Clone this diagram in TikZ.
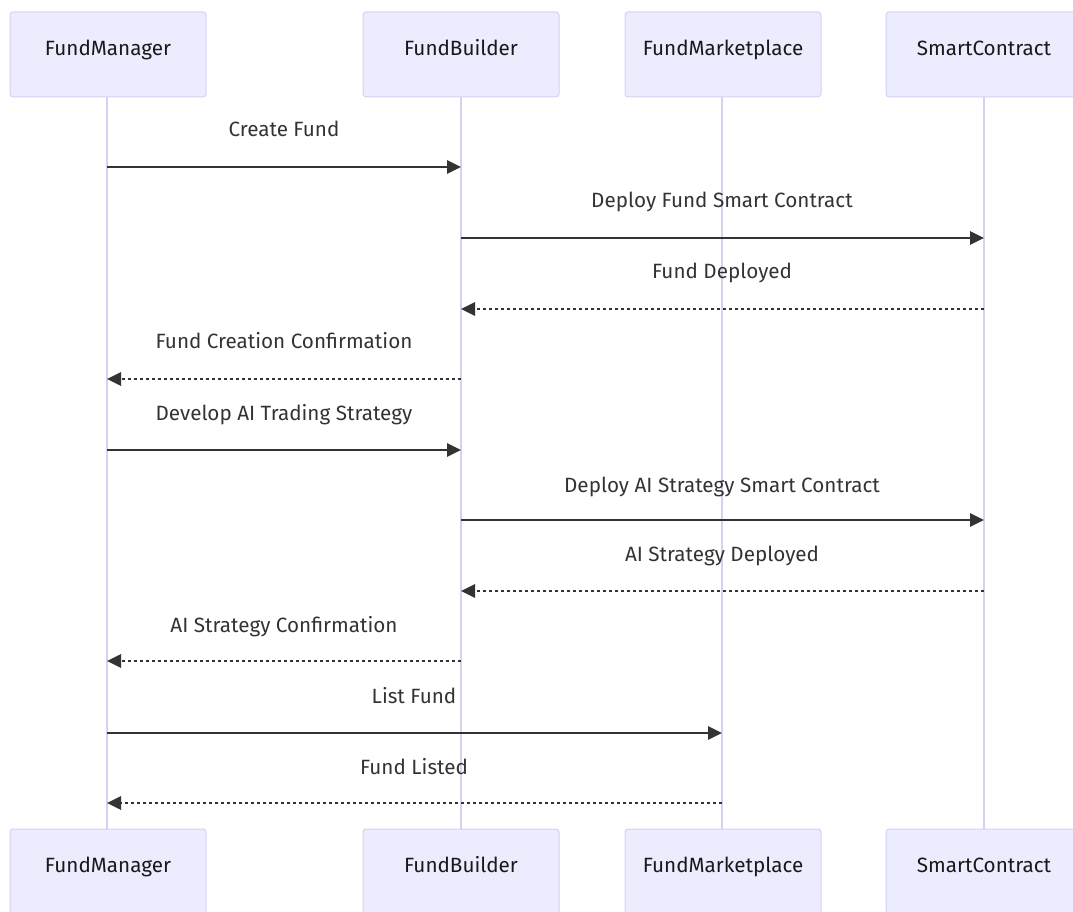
\documentclass[tikz,border=0pt]{standalone}
\usepackage{fontspec}
\setmainfont{Fira Sans}
\usetikzlibrary{arrows.meta}
\definecolor{actfill}{HTML}{ECECFF}
\definecolor{actline}{HTML}{DACEF3}
\definecolor{msgcol}{HTML}{333333}
\tikzset{
  actor/.style={draw=actline, fill=actfill, line width=0.75pt, rounded corners=2.25pt,
    minimum width=147pt, minimum height=63.75pt, inner sep=0pt,
    font=\fontsize{15.5}{18}\selectfont, text=black!90, text height=8pt, text depth=6.5pt},
  lifeline/.style={draw=actline, line width=1.5pt},
  msg/.style={draw=msgcol, line width=1.4pt, -{Triangle[length=10.5pt,width=10pt]}},
  reply/.style={msg, dash pattern=on 2.25pt off 2.25pt},
  lbl/.style={font=\fontsize{15.5}{18}\selectfont, text=msgcol, inner sep=0pt, anchor=base}
}
\begin{document}
\begin{tikzpicture}[x=0.75pt,y=-0.75pt]
\useasboundingbox (0,0) rectangle (1073,912);
% lifelines first (behind boxes)
\coordinate (lFM) at (107,96);
\coordinate (lFB) at (461,96);
\coordinate (lMP) at (722,96);
\coordinate (lSC) at (984,96);
\coordinate (eFM) at (107,829);
\coordinate (eFB) at (461,829);
\coordinate (eMP) at (722,829);
\coordinate (eSC) at (984,829);
\draw[lifeline] (lFM) -- (eFM);
\draw[lifeline] (lFB) -- (eFB);
\draw[lifeline] (lMP) -- (eMP);
\draw[lifeline] (lSC) -- (eSC);
% actors
\node[actor] (tFM) at (108,54.5) {FundManager};
\node[actor] (tFB) at (461,54.5) {FundBuilder};
\node[actor] (tMP) at (723,54.5) {FundMarketplace};
\node[actor] (tSC) at (984,54.5) {SmartContract};
\node[actor] (bFM) at (108,871.5) {FundManager};
\node[actor] (bFB) at (461,871.5) {FundBuilder};
\node[actor] (bMP) at (723,871.5) {FundMarketplace};
\node[actor] (bSC) at (984,871.5) {SmartContract};
% message rows
\coordinate (m1) at (0,167);
\coordinate (m2) at (0,238);
\coordinate (m3) at (0,309);
\coordinate (m4) at (0,379);
\coordinate (m5) at (0,450);
\coordinate (m6) at (0,520);
\coordinate (m7) at (0,591);
\coordinate (m8) at (0,661);
\coordinate (m9) at (0,733);
\coordinate (m10) at (0,803);
\draw[msg] (lFM |- m1) -- (lFB |- m1);
\draw[msg] (lFB |- m2) -- (lSC |- m2);
\draw[reply] (lSC |- m3) -- (lFB |- m3);
\draw[reply] (lFB |- m4) -- (lFM |- m4);
\draw[msg] (lFM |- m5) -- (lFB |- m5);
\draw[msg] (lFB |- m6) -- (lSC |- m6);
\draw[reply] (lSC |- m7) -- (lFB |- m7);
\draw[reply] (lFB |- m8) -- (lFM |- m8);
\draw[msg] (lFM |- m9) -- (lMP |- m9);
\draw[reply] (lMP |- m10) -- (lFM |- m10);
% labels
\node[lbl] (t1) at (284,137) {Create Fund};
\node[lbl] (t2) at (722,208) {Deploy Fund Smart Contract};
\node[lbl] (t3) at (722,279) {Fund Deployed};
\node[lbl] (t4) at (284,349) {Fund Creation Confirmation};
\node[lbl] (t5) at (284,421) {Develop AI Trading Strategy};
\node[lbl] (t6) at (722,492) {Deploy AI Strategy Smart Contract};
\node[lbl] (t7) at (722,561) {AI Strategy Deployed};
\node[lbl] (t8) at (284,632) {AI Strategy Confirmation};
\node[lbl] (t9) at (414,703) {List Fund};
\node[lbl] (t10) at (414,774) {Fund Listed};
\end{tikzpicture}
\end{document}
